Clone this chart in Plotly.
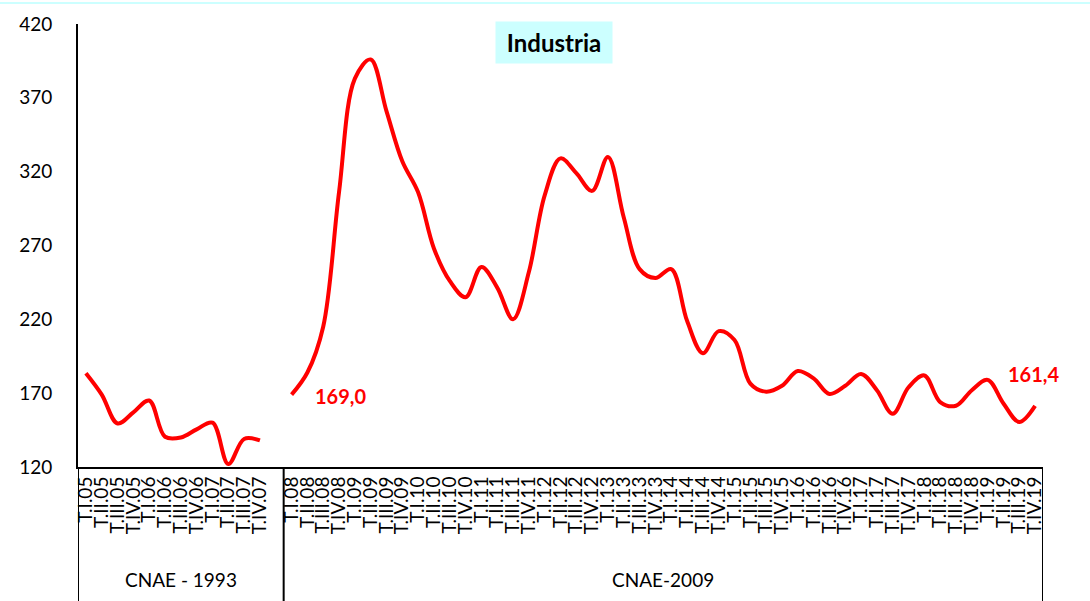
import plotly.graph_objects as go

# ---- data ----
quarters = ["T.I", "T.II", "T.III", "T.IV"]
years_1993 = ["05", "06", "07"]
years_2009 = ["08", "09", "10", "11", "12", "13", "14", "15", "16", "17", "18", "19"]

cats_1993 = [f"{q}.{y}" for y in years_1993 for q in quarters]
cats_2009 = [f"{q}.{y}" for y in years_2009 for q in quarters]
blank_cat = [" "]
all_cats = cats_1993 + blank_cat + cats_2009

values_1993 = [183.5, 169, 149.5, 157, 165, 140.5, 140, 145.5, 150, 122, 139, 138]
values_2009 = [169.0, 184, 215, 306, 383, 396, 361, 327, 306, 268, 246, 235,
               255.5, 241.5, 220, 252, 304, 329, 319, 307, 330, 289, 254, 248,
               254, 219, 197, 212, 206, 176.5, 171, 175, 185, 180, 169.5, 175,
               183, 172, 156, 174, 182, 164, 161.5, 172, 179, 163, 150.5, 161.4]

y_ticks = [120, 170, 220, 270, 320, 370, 420]
group_labels = ["CNAE - 1993", "CNAE-2009"]
title_text = "Industria"

FONT = "Lato"
RED = "#FF0000"

fig = go.Figure()
fig.add_trace(go.Scatter(x=cats_1993, y=values_1993, mode="lines",
                         line=dict(color=RED, width=4, shape="spline", smoothing=1.0),
                         hoverinfo="x+y", showlegend=False))
fig.add_trace(go.Scatter(x=cats_2009, y=values_2009, mode="lines",
                         line=dict(color=RED, width=4, shape="spline", smoothing=1.0),
                         hoverinfo="x+y", showlegend=False))

# value labels
fig.add_annotation(x=cats_2009[0], y=values_2009[0], text="<b>169,0</b>",
                   showarrow=False, xanchor="left", yanchor="middle", xshift=21, yshift=-1,
                   font=dict(family=FONT, size=20, color=RED))
fig.add_annotation(x=cats_2009[-1], y=values_2009[-1], text="<b>161,4</b>",
                   showarrow=False, xanchor="center", yanchor="middle", xshift=-2, yshift=32,
                   font=dict(family=FONT, size=20, color=RED))

# title box
fig.add_annotation(xref="paper", yref="y", x=(554 - 78) / 965, y=407.5,
                   text=f"<b>{title_text}</b>", showarrow=False,
                   xanchor="center", yanchor="middle",
                   width=116, height=41, borderpad=0, bgcolor="#CCFFFF",
                   font=dict(family=FONT, size=24, color="#000000"))

# group labels
n1 = len(cats_1993) + len(blank_cat)
n_all = len(all_cats)
fig.add_annotation(xref="x", yref="paper", x=(n1 - 1) / 2, y=(467 - 580) / 445,
                   text=group_labels[0], showarrow=False, xanchor="center", yanchor="middle",
                   font=dict(family=FONT, size=19, color="#000000"))
fig.add_annotation(xref="x", yref="paper", x=(n1 + n_all - 1) / 2, y=(467 - 580) / 445,
                   text=group_labels[1], showarrow=False, xanchor="center", yanchor="middle",
                   font=dict(family=FONT, size=19, color="#000000"))

# group separators
for xv in [-0.5, n1 - 0.5, n_all - 0.5]:
    fig.add_shape(type="line", xref="x", yref="paper", x0=xv, x1=xv, y0=0, y1=-0.32,
                  line=dict(color="#000000", width=2))

# top light-cyan border
fig.add_shape(type="line", xref="paper", yref="paper",
              x0=-78 / 965, x1=(1090 - 78) / 965, y0=(467 - 1) / 445, y1=(467 - 1) / 445,
              line=dict(color="#CCFFFF", width=2))

fig.update_layout(
    width=1090, height=601,
    margin=dict(l=78, r=47, t=22, b=134, pad=0),
    paper_bgcolor="white", plot_bgcolor="white",
    font=dict(family=FONT, color="#000000"),
    showlegend=False,
)
fig.update_xaxes(type="category", categoryorder="array", categoryarray=all_cats,
                 range=[-0.5, n_all - 0.5],
                 tickmode="array", tickvals=all_cats, ticktext=all_cats,
                 tickangle=-90, tickfont=dict(family=FONT, size=19, color="#000000"),
                 showgrid=False, zeroline=False, showline=True, linecolor="#000000",
                 linewidth=2, ticks="", fixedrange=True)
fig.update_yaxes(range=[120, 420], tickmode="array", tickvals=y_ticks,
                 tickfont=dict(family=FONT, size=19, color="#000000"),
                 showgrid=False, zeroline=False, showline=True, linecolor="#000000",
                 linewidth=2, ticks="", ticklabelstandoff=20, fixedrange=True)

fig.write_html("out.html", config={"displayModeBar": False},
               post_script="document.body.style.margin='0';document.body.style.overflow='hidden';")
